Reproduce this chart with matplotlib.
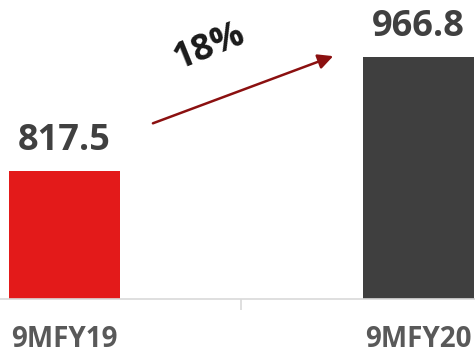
import matplotlib.pyplot as plt

# data
categories = ['9MFY19', '9MFY20']
values = [817.5, 966.8]
bar_colors = ['#E31A1A', '#3F3F3F']
growth_label = '18%'

plt.rcParams['font.family'] = ['Open Sans', 'DejaVu Sans']

fig = plt.figure(figsize=(4.75, 3.58), dpi=100)
ax = fig.add_axes([0, 0.165, 1, 0.835])

x = list(range(len(categories)))
ax.bar(x, values, width=0.314, color=bar_colors, zorder=2)

ax.set_xlim(-0.1825, 1.161)
ax.set_ylim(650, 1041.5)

# value labels above bars
for xi, v in zip(x, values):
    ax.annotate(f'{v:.1f}', (xi, v), xytext=(0, 9), textcoords='offset points',
                ha='center', va='bottom', fontsize=26, fontweight='bold',
                color='#404040')

# growth arrow and label
ax.annotate('', xy=(0.76, 968), xytext=(0.25, 880),
            arrowprops=dict(arrowstyle='-|>,head_length=0.9,head_width=0.45',
                            color='#8B1010', lw=1.8, shrinkA=0, shrinkB=0))
ax.text(0.41, 980, growth_label, rotation=22, ha='center', va='center',
        fontsize=26, fontweight='bold', color='#1A1A1A')

# axes styling
for side in ['top', 'right', 'left']:
    ax.spines[side].set_visible(False)
ax.spines['bottom'].set_color('#D9D9D9')
ax.spines['bottom'].set_linewidth(1.2)
ax.set_yticks([])
ax.set_xticks([0.5])
ax.set_xticklabels([''])
ax.tick_params(axis='x', length=8, width=1.2, color='#D9D9D9')

for xi, cat in zip(x, categories):
    ax.text(xi, -0.137, cat, transform=ax.get_xaxis_transform(), ha='center',
            va='center', fontsize=20, fontweight='bold', color='#595959')

fig.savefig('out.png', dpi=100)
